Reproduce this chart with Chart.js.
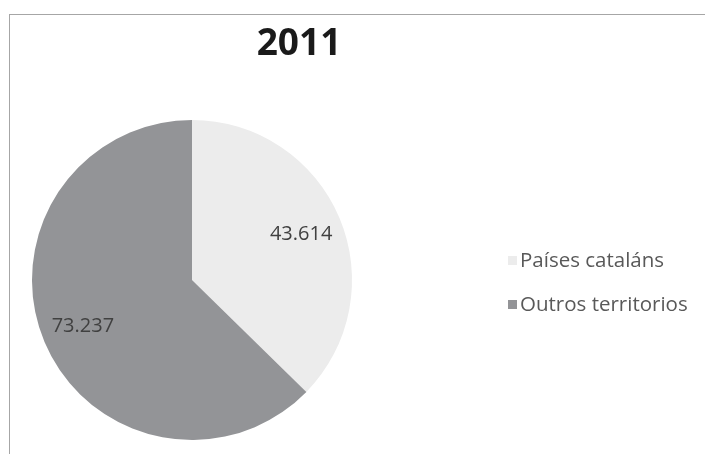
<!DOCTYPE html>
<html>
<head>
<meta charset="utf-8">
<script src="https://cdn.jsdelivr.net/npm/chart.js"></script>
<style>
  html, body { margin: 0; padding: 0; background: #fff; }
  #frame {
    position: absolute; left: 9px; top: 14px;
    width: 696px; height: 440px;
    border-top: 1px solid #a6a6a6; border-left: 1px solid #a6a6a6;
  }
  canvas { display: block; }
</style>
</head>
<body>
<div id="frame"><canvas id="chart" width="696" height="440"></canvas></div>
<script>
// datos
const TITLE = '2011';
const LABELS = ['Países cataláns', 'Outros territorios'];
const VALUES = [43614, 73237];
const COLORS = ['#ececec', '#939497'];

const FONT = '"Open Sans", "DejaVu Sans", sans-serif';

// 43614 -> "43.614"
const fmt = v => String(v).replace(/\B(?=(\d{3})+(?!\d))/g, '.');

// título, etiquetas e lenda debuxados a man (posición coma en Excel)
const decor = {
  id: 'decor',
  afterDraw(chart) {
    const ctx = chart.ctx;
    const area = chart.chartArea;
    const meta = chart.getDatasetMeta(0);
    ctx.save();

    // título
    ctx.fillStyle = '#1a1a1a';
    ctx.font = 'bold 37px ' + FONT;
    ctx.textAlign = 'center';
    ctx.textBaseline = 'alphabetic';
    ctx.fillText(TITLE, 289, 40);

    // valores dentro das porcións
    ctx.fillStyle = '#404040';
    ctx.font = '20px ' + FONT;
    ctx.textBaseline = 'middle';
    meta.data.forEach((arc, i) => {
      const mid = (arc.startAngle + arc.endAngle) / 2;
      const r = arc.outerRadius * 0.74;
      ctx.fillText(fmt(VALUES[i]), arc.x + Math.cos(mid) * r, arc.y + Math.sin(mid) * r);
    });

    // lenda
    ctx.font = '20.5px ' + FONT;
    ctx.textAlign = 'left';
    const lx = area.right + 156;
    const rows = [245, 289];
    LABELS.forEach((lab, i) => {
      ctx.fillStyle = COLORS[i];
      ctx.fillRect(lx, rows[i] - 4, 9, 9);
      ctx.fillStyle = '#595959';
      ctx.fillText(lab, lx + 12, rows[i] + 1);
    });

    ctx.restore();
  }
};

new Chart(document.getElementById('chart'), {
  type: 'pie',
  data: {
    labels: LABELS,
    datasets: [{
      data: VALUES,
      backgroundColor: COLORS,
      borderWidth: 0
    }]
  },
  options: {
    responsive: false,
    animation: false,
    layout: { padding: { left: 22, right: 354, top: 105, bottom: 15 } },
    plugins: {
      legend: { display: false },
      title: { display: false },
      tooltip: { enabled: false }
    }
  },
  plugins: [decor]
});
</script>
</body>
</html>
